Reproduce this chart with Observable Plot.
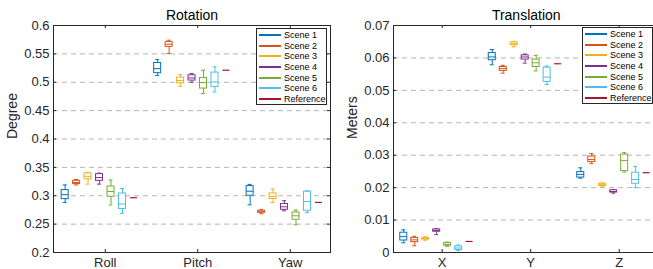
<!DOCTYPE html>
<html>
<head>
<meta charset="utf-8">
<script src="https://cdn.jsdelivr.net/npm/d3@7"></script>
<script src="https://cdn.jsdelivr.net/npm/@observablehq/plot@0.6"></script>
<style>
  html, body { margin: 0; padding: 0; background: #fff; }
  #chart { position: relative; width: 653px; height: 269px; overflow: hidden; background: #fff;
           font-family: "Liberation Sans", Arial, Helvetica, sans-serif; }
  .legend { position: absolute; box-sizing: border-box; border: 1px solid #262626; background: #fff;
            padding-top: 1px; font-size: 9px; color: #000; }
  .legend .row { display: flex; align-items: center; height: 10.6px; white-space: nowrap; }
  .legend .sw { display: inline-block; width: 22px; height: 0; border-top: 2px solid; margin-left: 2px; margin-right: 3px; }
</style>
</head>
<body>
<div id="chart"></div>
<script>
// ---------- data ----------
const seriesNames = ["Scene 1", "Scene 2", "Scene 3", "Scene 4", "Scene 5", "Scene 6", "Reference"];
const seriesColors = ["#0072BD", "#D95319", "#EDB120", "#7E2F8E", "#77AC30", "#4DBEEE", "#A2142F"];

// Rotation: per category [whiskerLow, q1, median, q3, whiskerHigh]
const rotCategories = ["Roll", "Pitch", "Yaw"];
const rotScene1 = [[0.288, 0.294, 0.302, 0.310, 0.319], [0.512, 0.516, 0.524, 0.534, 0.540], [0.284, 0.300, 0.308, 0.317, 0.320]];
const rotScene2 = [[0.319, 0.3205, 0.3233, 0.3263, 0.3286], [0.5506, 0.5623, 0.567, 0.5711, 0.574], [0.2683, 0.2701, 0.2718, 0.2736, 0.2753]];
const rotScene3 = [[0.3205, 0.3289, 0.3342, 0.3395, 0.3412], [0.493, 0.4982, 0.503, 0.5083, 0.5136], [0.2882, 0.2942, 0.2988, 0.304, 0.3118]];
const rotScene4 = [[0.3205, 0.3263, 0.332, 0.3381, 0.3398], [0.5, 0.503, 0.5076, 0.5123, 0.5153], [0.2735, 0.2753, 0.2806, 0.2854, 0.2912]];
const rotScene5 = [[0.2837, 0.2982, 0.3075, 0.3163, 0.3275], [0.48, 0.4889, 0.4995, 0.5076, 0.5212], [0.2489, 0.2577, 0.2647, 0.2705, 0.2748]];
const rotScene6 = [[0.2689, 0.2767, 0.2854, 0.304, 0.3128], [0.4829, 0.4917, 0.5005, 0.517, 0.527], [0.2706, 0.2735, 0.29, 0.3071, 0.3088]];
const rotReference = [0.2965, 0.5212, 0.2882];
const rotTicks = [0.2, 0.25, 0.3, 0.35, 0.4, 0.45, 0.5, 0.55, 0.6];
const rotTickLabels = ["0.2", "0.25", "0.3", "0.35", "0.4", "0.45", "0.5", "0.55", "0.6"];

// Translation: per category [whiskerLow, q1, median, q3, whiskerHigh]
const trCategories = ["X", "Y", "Z"];
const trScene1 = [[0.0030, 0.0037, 0.0049, 0.0061, 0.0070], [0.0579, 0.0593, 0.0603, 0.0615, 0.0626], [0.0229, 0.0231, 0.0241, 0.0248, 0.0261]];
const trScene2 = [[0.0021, 0.0032, 0.0039, 0.0045, 0.0050], [0.0553, 0.0560, 0.0567, 0.0572, 0.0577], [0.0274, 0.0279, 0.0287, 0.0296, 0.0305]];
const trScene3 = [[0.0038, 0.0040, 0.0042, 0.0045, 0.0048], [0.0634, 0.0639, 0.0644, 0.0648, 0.0651], [0.0202, 0.0205, 0.0209, 0.0212, 0.0214]];
const trScene4 = [[0.0055, 0.0064, 0.0068, 0.0071, 0.0073], [0.0584, 0.0595, 0.0603, 0.0608, 0.0612], [0.0183, 0.0185, 0.0188, 0.0192, 0.0194]];
const trScene5 = [[0.0019, 0.0021, 0.0025, 0.0029, 0.0032], [0.0560, 0.0572, 0.0585, 0.0595, 0.0608], [0.0248, 0.0251, 0.0284, 0.0302, 0.0308]];
const trScene6 = [[0.0006, 0.0008, 0.0014, 0.0019, 0.0023], [0.0518, 0.0526, 0.0541, 0.0570, 0.0575], [0.0200, 0.0212, 0.0225, 0.0246, 0.0265]];
const trReference = [0.0034, 0.0582, 0.0246];
const trTicks = [0, 0.01, 0.02, 0.03, 0.04, 0.05, 0.06, 0.07];
const trTickLabels = ["0", "0.01", "0.02", "0.03", "0.04", "0.05", "0.06", "0.07"];

// ---------- drawing ----------
const FONT = "'Liberation Sans', Arial, Helvetica, sans-serif";
const INK = "#262626";
const SLOT = 0.124; // spacing between series within a group (x units)

function makePanel(o) {
  const {categories, scenes, reference, ticks, tickLabels, xDomain, yDomain, unitPx,
         width, marginLeft, marginRight, title, ylabel} = o;
  const bw = 7 / unitPx, cw = 4 / unitPx;
  const yPx = (yDomain[1] - yDomain[0]) / 227;
  const boxes = [];
  scenes.forEach((s, si) => s.forEach((v, ci) => {
    boxes.push({series: seriesNames[si], pos: ci + 1 + (si - 3.5) * SLOT,
                lo: v[0], q1: v[1], med: v[2], q3: v[3], hi: v[4]});
  }));
  const refs = reference.map((v, ci) => ({series: "Reference", pos: ci + 1 + (6 - 3.5) * SLOT, v}));
  const catPos = categories.map((c, i) => i + 1);
  const inner = ticks.filter(t => t > yDomain[0] && t < yDomain[1]);
  const tl = 3;
  return Plot.plot({
    width, height: 269, marginTop: 25, marginBottom: 17, marginLeft, marginRight,
    style: {fontFamily: FONT, color: INK, background: "transparent", overflow: "visible"},
    x: {domain: xDomain, axis: null},
    y: {domain: yDomain, axis: null},
    color: {domain: seriesNames, range: seriesColors},
    marks: [
      Plot.gridY(inner, {stroke: "#b4b4b4", strokeOpacity: 1, strokeDasharray: "5,4", strokeWidth: 1}),
      Plot.frame({stroke: INK, strokeWidth: 1}),
      // inward ticks
      Plot.ruleY(ticks, {y: d => d, x1: xDomain[0], x2: xDomain[0] + tl / unitPx, stroke: INK}),
      Plot.ruleY(ticks, {y: d => d, x1: xDomain[1], x2: xDomain[1] - tl / unitPx, stroke: INK}),
      Plot.ruleX(catPos, {x: d => d, y1: yDomain[0], y2: yDomain[0] + tl * yPx, stroke: INK}),
      Plot.ruleX(catPos, {x: d => d, y1: yDomain[1], y2: yDomain[1] - tl * yPx, stroke: INK}),
      Plot.axisY(ticks, {tickSize: 0, tickPadding: 4, fontSize: 13, tickFormat: (d, i) => tickLabels[ticks.indexOf(d)], label: null}),
      Plot.axisX(catPos, {tickSize: 0, tickPadding: 5, fontSize: 13, tickFormat: d => categories[d - 1], label: null}),
      // boxes
      Plot.ruleX(boxes, {x: "pos", y1: "q3", y2: "hi", stroke: "series", strokeWidth: 1}),
      Plot.ruleX(boxes, {x: "pos", y1: "lo", y2: "q1", stroke: "series", strokeWidth: 1}),
      Plot.ruleY(boxes, {y: "hi", x1: d => d.pos - cw / 2, x2: d => d.pos + cw / 2, stroke: "series", strokeWidth: 1}),
      Plot.ruleY(boxes, {y: "lo", x1: d => d.pos - cw / 2, x2: d => d.pos + cw / 2, stroke: "series", strokeWidth: 1}),
      Plot.rect(boxes, {x1: d => d.pos - bw / 2, x2: d => d.pos + bw / 2, y1: "q1", y2: "q3",
                        stroke: "series", fill: "white", strokeWidth: 1, inset: 0}),
      Plot.ruleY(boxes, {y: "med", x1: d => d.pos - bw / 2, x2: d => d.pos + bw / 2, stroke: "series", strokeWidth: 1}),
      Plot.ruleY(refs, {y: "v", x1: d => d.pos - bw / 2, x2: d => d.pos + bw / 2, stroke: "series", strokeWidth: 1.2}),
      // title & y label
      Plot.text([title], {frameAnchor: "top", dy: -10, fontSize: 14, fill: "#000", lineAnchor: "middle"}),
      Plot.text([ylabel], {frameAnchor: "left", dx: -41, rotate: -90, fontSize: 14, fill: INK})
    ]
  });
}

const chart = document.getElementById("chart");

const p1 = makePanel({
  categories: rotCategories,
  scenes: [rotScene1, rotScene2, rotScene3, rotScene4, rotScene5, rotScene6],
  reference: rotReference, ticks: rotTicks, tickLabels: rotTickLabels,
  xDomain: [0.44, 3.435], yDomain: [0.2, 0.6], unitPx: 92.5,
  width: 335, marginLeft: 53, marginRight: 5, title: "Rotation", ylabel: "Degree"
});
p1.style.position = "absolute"; p1.style.left = "0px"; p1.style.top = "0px";
chart.appendChild(p1);

const p2 = makePanel({
  categories: trCategories,
  scenes: [trScene1, trScene2, trScene3, trScene4, trScene5, trScene6],
  reference: trReference, ticks: trTicks, tickLabels: trTickLabels,
  xDomain: [0.45, 3.45], yDomain: [0, 0.07], unitPx: 88.5,
  width: 326, marginLeft: 58, marginRight: 2.5, title: "Translation", ylabel: "Meters"
});
p2.style.position = "absolute"; p2.style.left = "335px"; p2.style.top = "0px";
chart.appendChild(p2);

function addLegend(left, top) {
  const lg = document.createElement("div");
  lg.className = "legend";
  lg.style.left = left + "px"; lg.style.top = top + "px";
  lg.style.width = "71px"; lg.style.height = "77px";
  seriesNames.forEach((name, i) => {
    const row = document.createElement("div");
    row.className = "row";
    const sw = document.createElement("span");
    sw.className = "sw"; sw.style.borderTopColor = seriesColors[i];
    const tx = document.createElement("span");
    tx.textContent = name;
    row.appendChild(sw); row.appendChild(tx);
    lg.appendChild(row);
  });
  chart.appendChild(lg);
}
addLegend(256, 28);
addLegend(582, 27);
</script>
</body>
</html>
